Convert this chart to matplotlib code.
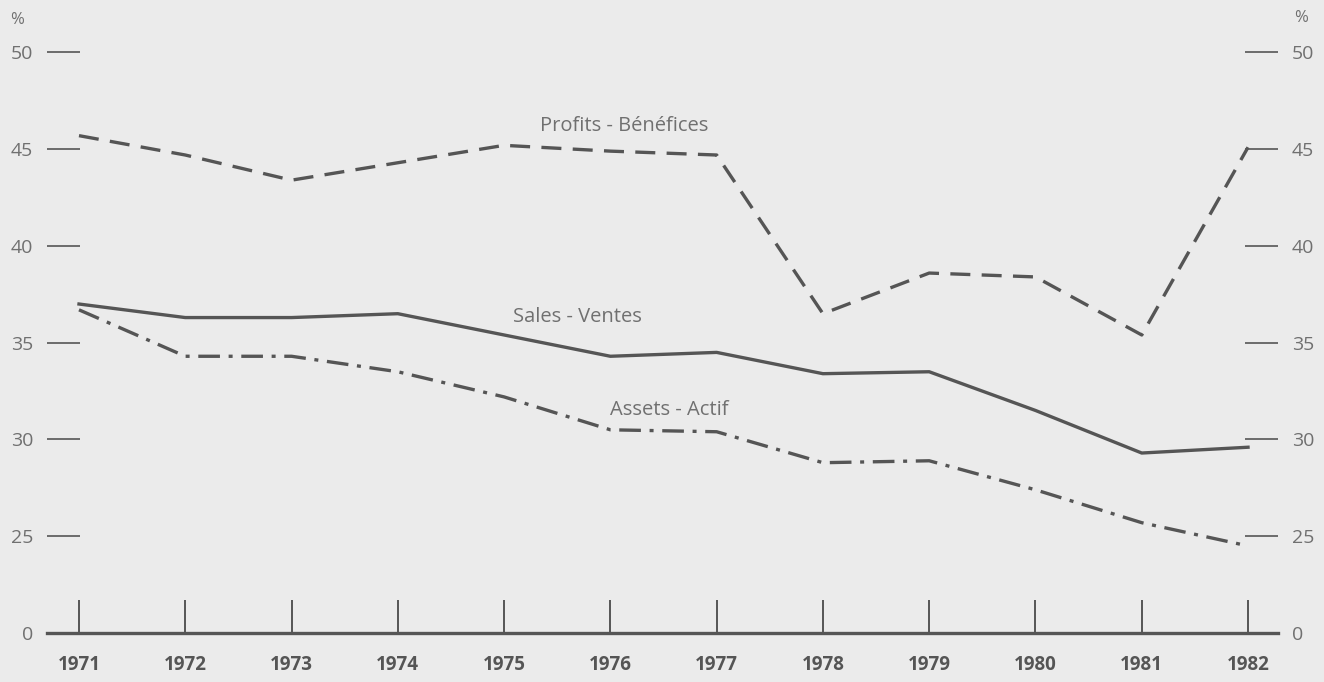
import matplotlib
matplotlib.use("Agg")
import matplotlib.pyplot as plt

# data (0 on the axis is drawn where 20 would be: broken scale)
years = [1971, 1972, 1973, 1974, 1975, 1976, 1977, 1978, 1979, 1980, 1981, 1982]
profits = [45.7, 44.7, 43.4, 44.3, 45.2, 44.9, 44.7, 36.5, 38.6, 38.4, 35.4, 45.1]
sales = [37.0, 36.3, 36.3, 36.5, 35.4, 34.3, 34.5, 33.4, 33.5, 31.5, 29.3, 29.6]
assets = [36.7, 34.3, 34.3, 33.5, 32.2, 30.5, 30.4, 28.8, 28.9, 27.4, 25.7, 24.5]
ytick_vals = [20, 25, 30, 35, 40, 45, 50]
ytick_labels = ["0", "25", "30", "35", "40", "45", "50"]

bg = "#ebebeb"
ink = "#555555"
txt = "#707070"

plt.rcParams['font.family'] = ['Open Sans', 'DejaVu Sans']

fig = plt.figure(figsize=(13.24, 6.82), dpi=100, facecolor=bg)
ax = fig.add_axes([47 / 1324, 49 / 682, 1231 / 1324, 633 / 682])
ax.set_facecolor(bg)

ax.plot(years, profits, color=ink, lw=2.4, linestyle=(0, (6, 3.4)))
ax.plot(years, sales, color=ink, lw=2.4, solid_joinstyle="round")
ax.plot(years, assets, color=ink, lw=2.4, linestyle=(0, (6.5, 2.6, 1.2, 2.6)))

ax.set_xlim(1970.699, 1982.282)
ax.set_ylim(20, 52.71)

for s in ["left", "right", "top"]:
    ax.spines[s].set_visible(False)
ax.spines["bottom"].set_color(ink)
ax.spines["bottom"].set_linewidth(2.4)

ax.set_xticks(years)
ax.set_xticklabels([str(y) for y in years], fontsize=13.5, fontweight="bold", color=ink)
ax.tick_params(axis="x", direction="in", length=24, width=1.4, color=ink, pad=16)

ax.set_yticks(ytick_vals)
ax.set_yticklabels(ytick_labels, fontsize=14, color=txt)
ax.tick_params(axis="y", direction="in", length=24, width=1.2, color=ink, pad=10,
               left=True, right=True, labelleft=True, labelright=True)

ax.text(-0.024, 51.7, "%", transform=ax.get_yaxis_transform(), fontsize=12,
        color=txt, ha="center", va="center")
ax.text(1.019, 51.8, "%", transform=ax.get_yaxis_transform(), fontsize=12,
        color=txt, ha="center", va="center")

ax.text(1976.13, 46.2, "Profits - Bénéfices", fontsize=14.5, color=txt, ha="center", va="center")
ax.text(1975.69, 36.33, "Sales - Ventes", fontsize=14.5, color=txt, ha="center", va="center")
ax.text(1976.55, 31.52, "Assets - Actif", fontsize=14.5, color=txt, ha="center", va="center")

fig.savefig("out.png", dpi=100, facecolor=bg)
